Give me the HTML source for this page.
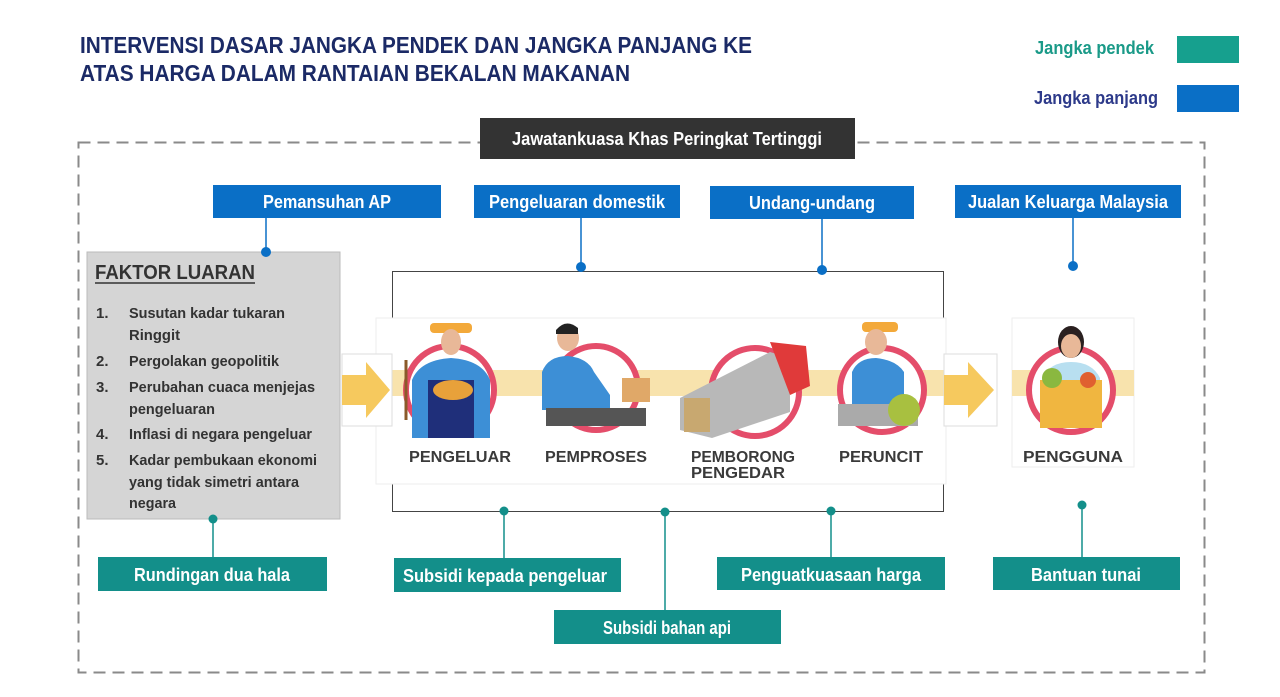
<!DOCTYPE html>
<html><head><meta charset="utf-8"><style>
html,body{margin:0;padding:0;background:#fff;}
svg{display:block;}
text{font-family:"Liberation Sans",sans-serif;font-weight:bold;}
</style></head><body>
<svg width="1280" height="697" viewBox="0 0 1280 697" xmlns="http://www.w3.org/2000/svg">
<rect width="1280" height="697" fill="#fff"/>
<!-- Title -->
<text x="80" y="53" font-size="23" fill="#1b2a66" textLength="672" lengthAdjust="spacingAndGlyphs">INTERVENSI DASAR JANGKA PENDEK DAN JANGKA PANJANG KE</text>
<text x="80" y="81" font-size="23" fill="#1b2a66" textLength="550" lengthAdjust="spacingAndGlyphs">ATAS HARGA DALAM RANTAIAN BEKALAN MAKANAN</text>
<!-- Legend -->
<text x="1035" y="54" font-size="18" fill="#1a9a88" textLength="119" lengthAdjust="spacingAndGlyphs">Jangka pendek</text>
<rect x="1177" y="36" width="62" height="27" fill="#16a08e"/>
<text x="1034" y="104" font-size="18" fill="#2d3a8a" textLength="124" lengthAdjust="spacingAndGlyphs">Jangka panjang</text>
<rect x="1177" y="85" width="62" height="27" fill="#0a6fc6"/>
<!-- dashed frame -->
<rect x="78.5" y="142.5" width="1126" height="530" fill="none" stroke="#8a8a8a" stroke-width="2" stroke-dasharray="12,7"/>
<rect x="480" y="118" width="375" height="41" fill="#333"/>
<text x="667" y="145" font-size="18" fill="#fff" text-anchor="middle" textLength="310" lengthAdjust="spacingAndGlyphs">Jawatankuasa Khas Peringkat Tertinggi</text>
<!-- blue boxes -->
<g fill="#0a6fc6">
<rect x="213" y="185" width="228" height="33"/>
<rect x="474" y="185" width="206" height="33"/>
<rect x="710" y="186" width="204" height="33"/>
<rect x="955" y="185" width="226" height="33"/>
</g>
<g fill="#fff" font-size="18" text-anchor="middle">
<text x="327" y="208" textLength="128" lengthAdjust="spacingAndGlyphs">Pemansuhan AP</text>
<text x="577" y="208" textLength="176" lengthAdjust="spacingAndGlyphs">Pengeluaran domestik</text>
<text x="812" y="209" textLength="126" lengthAdjust="spacingAndGlyphs">Undang-undang</text>
<text x="1068" y="208" textLength="200" lengthAdjust="spacingAndGlyphs">Jualan Keluarga Malaysia</text>
</g>
<g stroke="#0a6fc6" stroke-width="1.5">
<line x1="266" y1="218" x2="266" y2="252"/>
<line x1="581" y1="218" x2="581" y2="267"/>
<line x1="822" y1="219" x2="822" y2="270"/>
<line x1="1073" y1="218" x2="1073" y2="266"/>
</g>
<!-- process frame -->
<rect x="392.5" y="271.5" width="551" height="240" fill="none" stroke="#444" stroke-width="1"/>
<!-- image strip -->
<rect x="376" y="318" width="570" height="166" fill="#fff" stroke="#eee"/>
<rect x="376" y="370" width="570" height="26" fill="#f8e3ad"/>
<!-- side arrows -->
<rect x="342" y="354" width="50" height="72" fill="#fff" stroke="#ddd"/>
<path d="M342 375 H366 V362 L390 390 L366 418 V405 H342Z" fill="#f6c95e"/>
<rect x="944" y="354" width="53" height="72" fill="#fff" stroke="#ddd"/>
<path d="M944 375 H968 V362 L994 390 L968 418 V405 H944Z" fill="#f6c95e"/>
<!-- pengguna image -->
<rect x="1012" y="318" width="122" height="149" fill="#fff" stroke="#eee"/>
<rect x="1012" y="370" width="122" height="26" fill="#f8e3ad"/>
<!-- circles -->
<g fill="#fff" stroke="#e44d6a" stroke-width="6">
<circle cx="450" cy="390" r="44"/>
<circle cx="596" cy="388" r="42"/>
<circle cx="755" cy="392" r="44"/>
<circle cx="882" cy="390" r="42"/>
<circle cx="1071" cy="390" r="42"/>
</g>
<!-- figures -->
<g>
<!-- pengeluar -->
<rect x="430" y="323" width="42" height="10" rx="4" fill="#f3a93a"/>
<ellipse cx="451" cy="342" rx="10" ry="13" fill="#e8b898"/>
<path d="M412 438 V380 Q420 360 451 358 Q482 360 490 380 V438Z" fill="#3d8fd6"/>
<rect x="428" y="380" width="46" height="58" fill="#1f2f7a"/>
<ellipse cx="453" cy="390" rx="20" ry="10" fill="#e8a13a"/>
<line x1="406" y1="360" x2="406" y2="420" stroke="#8a5a2a" stroke-width="3"/>
<!-- pemproses -->
<ellipse cx="568" cy="338" rx="11" ry="13" fill="#e8b898"/>
<path d="M556 330 Q566 318 578 328 V334 H556Z" fill="#222"/>
<path d="M542 410 V372 Q548 356 568 356 Q588 358 594 372 L610 395 V410Z" fill="#3d8fd6"/>
<rect x="546" y="408" width="100" height="18" fill="#555"/>
<rect x="622" y="378" width="28" height="24" fill="#e0a868"/>
<!-- truck -->
<path d="M680 398 L770 352 L790 358 L790 412 L712 438 L680 430Z" fill="#b8b8b8"/>
<path d="M770 342 L806 346 L810 386 L790 395 Z" fill="#e03a3a"/>
<rect x="684" y="398" width="26" height="34" fill="#c8a870"/>
<!-- peruncit -->
<rect x="862" y="322" width="36" height="10" rx="4" fill="#f3a93a"/>
<ellipse cx="876" cy="342" rx="11" ry="13" fill="#e8b898"/>
<path d="M852 408 V372 Q858 358 876 358 Q896 360 904 372 V408Z" fill="#3d8fd6"/>
<rect x="838" y="404" width="80" height="22" fill="#aaa"/>
<circle cx="904" cy="410" r="16" fill="#a8c040"/>
<!-- pengguna -->
<ellipse cx="1071" cy="342" rx="13" ry="16" fill="#2a2020"/>
<ellipse cx="1071" cy="346" rx="10" ry="12" fill="#e8b898"/>
<path d="M1042 422 V378 Q1050 362 1071 362 Q1092 362 1100 378 V422Z" fill="#b8dff0"/>
<rect x="1040" y="380" width="62" height="48" fill="#f0b640"/>
<circle cx="1052" cy="378" r="10" fill="#8ab840"/>
<circle cx="1088" cy="380" r="8" fill="#e06030"/>
</g>
<!-- labels -->
<g fill="#3a3a3a" font-size="16" font-weight="normal" text-anchor="middle">
<text x="460" y="462" textLength="102" lengthAdjust="spacingAndGlyphs">PENGELUAR</text>
<text x="596" y="462" textLength="102" lengthAdjust="spacingAndGlyphs">PEMPROSES</text>
<text x="743" y="462" textLength="104" lengthAdjust="spacingAndGlyphs">PEMBORONG</text>
<text x="738" y="478" textLength="94" lengthAdjust="spacingAndGlyphs">PENGEDAR</text>
<text x="881" y="462" textLength="84" lengthAdjust="spacingAndGlyphs">PERUNCIT</text>
<text x="1073" y="462" textLength="100" lengthAdjust="spacingAndGlyphs">PENGGUNA</text>
</g>
<!-- faktor luaran box -->
<rect x="87" y="252" width="253" height="267" fill="#d5d5d5" stroke="#bbb"/>
<text x="95" y="279" font-size="20" fill="#333" textLength="160" lengthAdjust="spacingAndGlyphs">FAKTOR LUARAN</text>
<line x1="95" y1="283" x2="255" y2="283" stroke="#333" stroke-width="1.5"/>
<g font-size="15" fill="#333">
<text x="96" y="318">1.</text><text x="129" y="318" textLength="156" lengthAdjust="spacingAndGlyphs">Susutan kadar tukaran</text>
<text x="129" y="340" textLength="51" lengthAdjust="spacingAndGlyphs">Ringgit</text>
<text x="96" y="366">2.</text><text x="129" y="366" textLength="150" lengthAdjust="spacingAndGlyphs">Pergolakan geopolitik</text>
<text x="96" y="392">3.</text><text x="129" y="392" textLength="186" lengthAdjust="spacingAndGlyphs">Perubahan cuaca menjejas</text>
<text x="129" y="414" textLength="86" lengthAdjust="spacingAndGlyphs">pengeluaran</text>
<text x="96" y="439">4.</text><text x="129" y="439" textLength="183" lengthAdjust="spacingAndGlyphs">Inflasi di negara pengeluar</text>
<text x="96" y="465">5.</text><text x="129" y="465" textLength="188" lengthAdjust="spacingAndGlyphs">Kadar pembukaan ekonomi</text>
<text x="129" y="487" textLength="170" lengthAdjust="spacingAndGlyphs">yang tidak simetri antara</text>
<text x="129" y="508" textLength="47" lengthAdjust="spacingAndGlyphs">negara</text>
</g>
<!-- blue dots -->
<g fill="#0a6fc6">
<circle cx="266" cy="252" r="5"/>
<circle cx="581" cy="267" r="5"/>
<circle cx="822" cy="270" r="5"/>
<circle cx="1073" cy="266" r="5"/>
</g>
<!-- teal connectors -->
<g stroke="#138f8a" stroke-width="1.5">
<line x1="213" y1="519" x2="213" y2="557"/>
<line x1="504" y1="511" x2="504" y2="558"/>
<line x1="665" y1="512" x2="665" y2="610"/>
<line x1="831" y1="511" x2="831" y2="557"/>
<line x1="1082" y1="505" x2="1082" y2="557"/>
</g>
<g fill="#138f8a">
<circle cx="213" cy="519" r="4.5"/>
<circle cx="504" cy="511" r="4.5"/>
<circle cx="665" cy="512" r="4.5"/>
<circle cx="831" cy="511" r="4.5"/>
<circle cx="1082" cy="505" r="4.5"/>
<rect x="98" y="557" width="229" height="34"/>
<rect x="394" y="558" width="227" height="34"/>
<rect x="717" y="557" width="228" height="33"/>
<rect x="993" y="557" width="187" height="33"/>
<rect x="554" y="610" width="227" height="34"/>
</g>
<g fill="#fff" font-size="18" text-anchor="middle">
<text x="212" y="581" textLength="156" lengthAdjust="spacingAndGlyphs">Rundingan dua hala</text>
<text x="505" y="582" textLength="204" lengthAdjust="spacingAndGlyphs">Subsidi kepada pengeluar</text>
<text x="831" y="581" textLength="180" lengthAdjust="spacingAndGlyphs">Penguatkuasaan harga</text>
<text x="1086" y="581" textLength="110" lengthAdjust="spacingAndGlyphs">Bantuan tunai</text>
<text x="667" y="634" textLength="128" lengthAdjust="spacingAndGlyphs">Subsidi bahan api</text>
</g>
</svg>
</body></html>
